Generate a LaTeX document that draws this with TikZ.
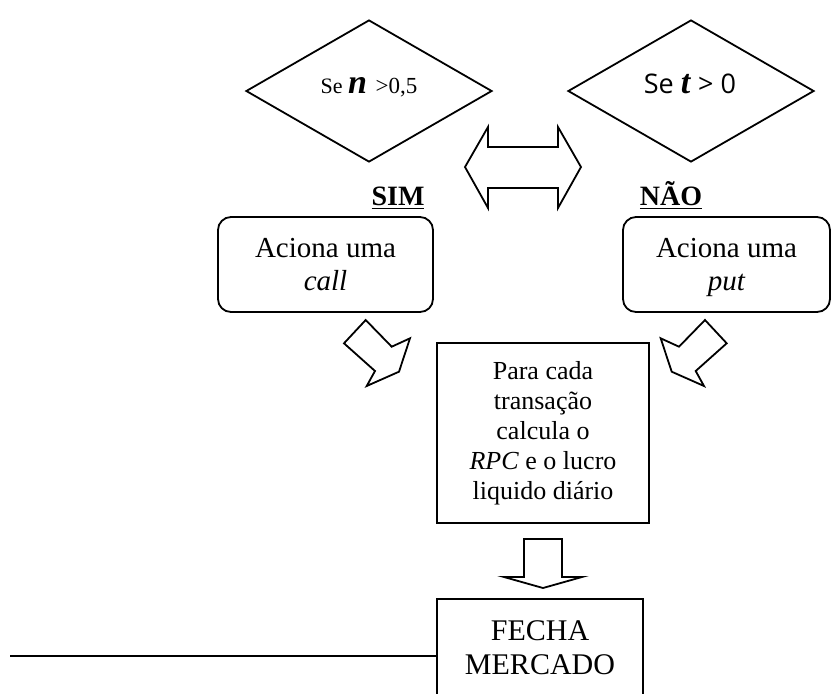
\documentclass[tikz,border=0pt]{standalone}
\usepackage{fontspec}
\setmainfont{Liberation Serif}
\newfontfamily\osans{Open Sans}
\usetikzlibrary{shapes.geometric}
\begin{document}
\begin{tikzpicture}[x=0.5pt,y=-0.5pt,line width=0.9pt,line join=miter,
  decision/.style={draw,diamond,inner sep=0pt,minimum width=123pt,minimum height=71pt},
  roundbox/.style={draw,rounded corners=6.5pt,minimum height=47.5pt,align=center,inner sep=0pt,
    font=\fontsize{14.5}{16.5}\selectfont},
  plainbox/.style={draw,align=center,inner sep=0pt},
  answer/.style={anchor=base,font=\fontsize{14}{16}\selectfont\bfseries},
  blockarrow/.style={draw,fill=white,line width=0.9pt}]
\useasboundingbox (0,0) rectangle (832,693);
% decisions
\node[decision] (dl) at (369,91) {};
\node[decision] (dr) at (691,91) {};
\node[anchor=base] (tl) at (369,93) {\fontsize{11}{13}\selectfont Se \fontsize{17}{19}\selectfont\textbf{\textit{n}} \fontsize{11.5}{13}\selectfont>0,5};
\node[anchor=base] (tr) at (690,93) {\osans\fontsize{13.5}{15}\selectfont Se {\rmfamily\fontsize{17}{19}\selectfont\textbf{\textit{t}}} > 0};
% double arrow
\draw[blockarrow] (465,167) -- (488,127) -- (488,147) -- (558,147) -- (558,127) -- (581,167)
  -- (558,208) -- (558,188) -- (488,188) -- (488,208) -- cycle;
% answers
\node[answer] (sim) at (398,205) {\underline{SIM}};
\node[answer] (nao) at (671,205) {\underline{NÃO}};
% action boxes
\node[roundbox,minimum width=107.5pt] (call) at (325.5,264.5) {Aciona uma\\\textit{call}};
\node[roundbox,minimum width=103.5pt] (put) at (726.5,264.5) {Aciona uma\\\textit{\smash{put}}};
% tilted arrows
\draw[blockarrow] (365.7,320) -- (344,343.3) -- (375,371) -- (366.7,386) -- (399,371.7)
  -- (410,338.3) -- (391.7,346.7) -- cycle;
\draw[blockarrow] (705,320) -- (726.7,343.3) -- (695.7,371) -- (704,386) -- (671.7,371.7)
  -- (660.7,338.3) -- (679,346.7) -- cycle;
% calculation box
\node[plainbox,minimum width=106pt,minimum height=90pt,font=\fontsize{13}{15}\selectfont] (calc) at (543,433)
  {Para cada\\transação\\calcula o\\\textit{RPC} e o lucro\\liquido diário};
% down arrow
\draw[blockarrow] (524,539) -- (562,539) -- (562,577) -- (582,577) -- (543,588) -- (504,577) -- (524,577) -- cycle;
% close market box
\node[plainbox,minimum width=103pt,minimum height=48.3pt,font=\fontsize{15}{17}\selectfont] (fecha) at (540,647.3)
  {FECHA\\MERCADO};
\coordinate (lineend) at (10,656);
\draw (lineend) -- (lineend -| fecha.west);
\end{tikzpicture}
\end{document}
